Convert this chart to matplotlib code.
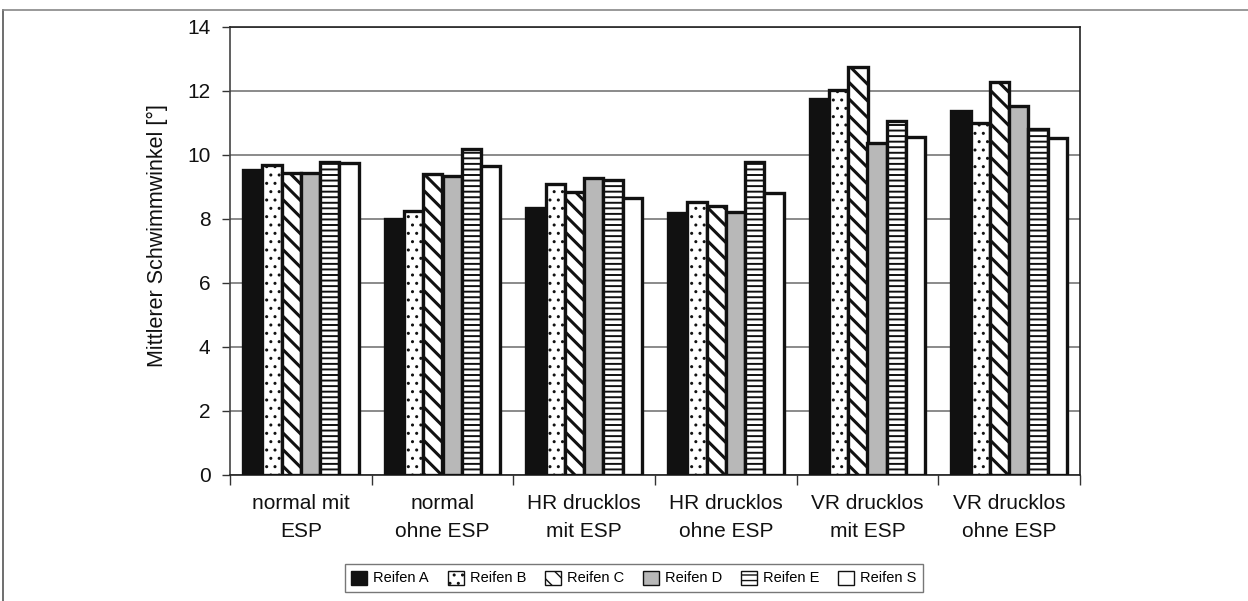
import numpy as np
import matplotlib
matplotlib.use("Agg")
import matplotlib.pyplot as plt
from matplotlib.patches import Patch
from matplotlib.lines import Line2D

plt.rcParams['font.family'] = ['Liberation Sans', 'DejaVu Sans']

categories = ["normal mit\nESP", "normal\nohne ESP", "HR drucklos\nmit ESP",
              "HR drucklos\nohne ESP", "VR drucklos\nmit ESP", "VR drucklos\nohne ESP"]
series_names = ["Reifen A", "Reifen B", "Reifen C", "Reifen D", "Reifen E", "Reifen S"]

reifen_a = [9.53, 8.00, 8.33, 8.18, 11.76, 11.39]
reifen_b = [9.69, 8.25, 9.09, 8.53, 12.03, 11.01]
reifen_c = [9.45, 9.41, 8.83, 8.42, 12.76, 12.27]
reifen_d = [9.43, 9.34, 9.29, 8.23, 10.39, 11.52]
reifen_e = [9.77, 10.19, 9.22, 9.79, 11.06, 10.82]
reifen_s = [9.74, 9.66, 8.67, 8.80, 10.55, 10.54]

yticks = [0, 2, 4, 6, 8, 10, 12, 14]
ylabel = "Mittlerer Schwimmwinkel [°]"

series = [reifen_a, reifen_b, reifen_c, reifen_d, reifen_e, reifen_s]
# face colour, hatch pattern, hatch line width
styles = [
    ("#111111", None, 1.0),
    ("white", "..", 1.0),
    ("white", "\\\\", 2.2),
    ("#b8b8b8", None, 1.0),
    ("white", "---", 1.4),
    ("white", None, 1.0),
]

W, H = 1248, 601
fig = plt.figure(figsize=(W / 100, H / 100), dpi=100)
ax = fig.add_axes([230 / W, 1 - 475 / H, 850 / W, 448 / H])

x = np.arange(len(categories))
bw = 0.136
handles = []
for i, (vals, (fc, hatch, hlw), name) in enumerate(zip(series, styles, series_names)):
    with plt.rc_context({'hatch.linewidth': hlw, 'hatch.color': 'black'}):
        bars = ax.bar(x + (i - 2.5) * bw, vals, width=bw, color=fc,
                      edgecolor="#111111", linewidth=2.4, hatch=hatch, zorder=3)
        for b in bars:
            if hasattr(b, "set_hatch_linewidth"):
                b.set_hatch_linewidth(hlw)
        h = Patch(facecolor=fc, edgecolor="#111111", linewidth=1.0, hatch=hatch, label=name)
        if hasattr(h, "set_hatch_linewidth"):
            h.set_hatch_linewidth(min(hlw, 1.2))
    handles.append(h)

ax.set_xlim(-0.5, len(categories) - 0.5)
ax.set_ylim(0, 14)
ax.set_yticks(yticks)
ax.set_yticklabels([str(v) for v in yticks], fontsize=15, color="#111111")
ax.tick_params(axis="y", length=6, width=1, color="#333333", pad=8)

ax.set_xticks(x)
ax.set_xticklabels(categories, fontsize=15, color="#111111", linespacing=1.55)
ax.tick_params(axis="x", which="major", length=0, pad=14)
ax.set_xticks(np.arange(-0.5, len(categories)), minor=True)
ax.tick_params(axis="x", which="minor", length=7, width=1, color="#333333")

ax.yaxis.grid(True, color="#8a8a8a", linewidth=1.4, zorder=0)
ax.set_axisbelow(True)
for s in ax.spines.values():
    s.set_color("#222222")
    s.set_linewidth(1.2)
ax.spines["left"].set_color("#444444")

fig.text(157 / W, 1 - 236 / H, ylabel, rotation=90, ha="center", va="center",
         fontsize=15.5, color="#111111")

leg = fig.legend(handles=handles, loc="center", bbox_to_anchor=(634 / W, 1 - 578 / H),
                 ncol=6, fontsize=10.5, frameon=True, fancybox=False,
                 edgecolor="#555555", handlelength=1.1, handleheight=1.1,
                 handletextpad=0.4, columnspacing=1.3, borderpad=0.45)
leg.get_frame().set_linewidth(1.0)

# outer frame (top and left edges visible)
fig.add_artist(Line2D([3 / W, 3 / W], [0, 1 - 10 / H], transform=fig.transFigure,
                      color="#555555", linewidth=1.2))
fig.add_artist(Line2D([3 / W, 1], [1 - 10 / H, 1 - 10 / H], transform=fig.transFigure,
                      color="#888888", linewidth=1.2))

fig.savefig("out.png", dpi=100)
